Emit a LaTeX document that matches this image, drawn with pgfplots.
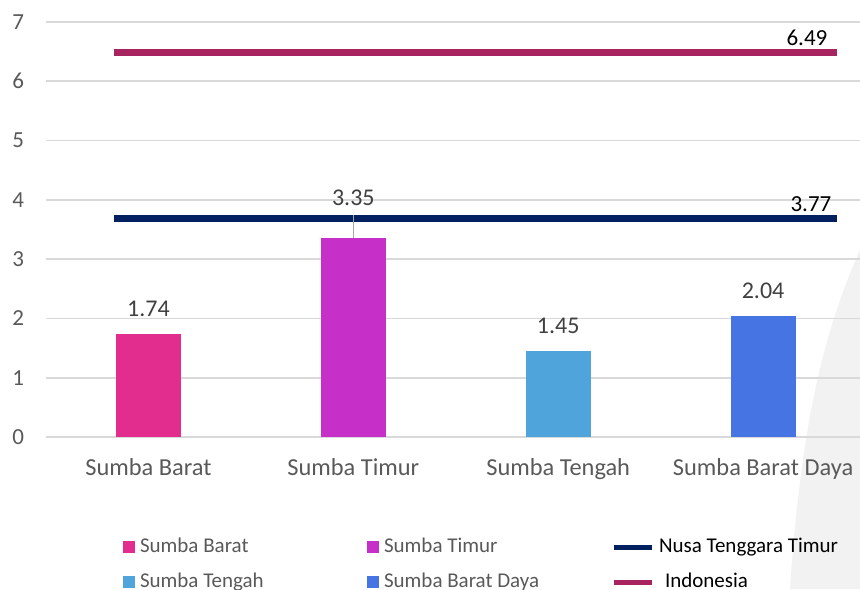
\documentclass[border=0pt]{standalone}
\usepackage{pgfplots}
\pgfplotsset{compat=1.18}
\usepackage{fontspec}
\setmainfont{Carlito}
\definecolor{sbarat}{HTML}{E32D8E}
\definecolor{stimur}{HTML}{C62FC8}
\definecolor{stengah}{HTML}{4FA5DB}
\definecolor{sbd}{HTML}{4674E2}
\definecolor{ntt}{HTML}{002060}
\definecolor{indo}{HTML}{A82461}
\definecolor{gridc}{HTML}{D9D9D9}
\definecolor{ticktext}{HTML}{595959}
\definecolor{valtext}{HTML}{404040}
\definecolor{bgcurve}{HTML}{F2F2F2}

\begin{document}
\begin{tikzpicture}[x=0.5pt,y=0.5pt]
\useasboundingbox (0,0) rectangle (860,589);
% soft background shape on the right
\fill[bgcurve] (860,339) .. controls (820,250) and (800,150) .. (790,0) -- (860,0) -- cycle;
\begin{axis}[
  at={(23pt,76pt)}, anchor=south west,
  scale only axis, width=409.75pt, height=207.5pt,
  xmin=-0.5, xmax=3.5, ymin=0, ymax=7,
  xtick={0,1,2,3},
  xticklabels={Sumba Barat,Sumba Timur,Sumba Tengah,Sumba Barat Daya},
  ytick={0,1,...,7},
  axis line style={draw=none},
  major tick length=0pt,
  ymajorgrids, grid style={gridc, line width=0.8pt},
  /pgf/number format/assume math mode=true,
  tick label style={text=ticktext},
  yticklabel style={xshift=-7.5pt, font=\fontsize{11.5}{13}\selectfont},
  xticklabel style={yshift=-7pt, font=\fontsize{12.2}{14}\selectfont},
  nodes near coords style={font=\fontsize{12}{14}\selectfont, text=valtext},
  /pgf/number format/.cd, fixed, precision=2,
  /pgfplots/.cd,
  legend columns=3,
  legend style={at={(0.094,-0.223)}, anchor=north west, draw=none, fill=none,
    inner sep=0pt, outer sep=0pt,
    nodes={inner sep=2.5pt, anchor=west,
      text height=9pt, text depth=3.5pt,
      font=\fontsize{10.5}{12}\selectfont, text=ticktext}},
]
\addplot[ybar, bar width=32.5pt, bar shift=0pt, fill=sbarat, draw=none,
  nodes near coords, nodes near coords style={yshift=5pt},
  legend image code/.code={\fill[sbarat] (0pt,-3pt) rectangle (6pt,3pt);}]
  coordinates {(0,1.74)};
\addlegendentry{\makebox[111pt][l]{Sumba Barat}}
\addplot[ybar, bar width=32.5pt, bar shift=0pt, fill=stimur, draw=none,
  nodes near coords, nodes near coords style={yshift=13pt},
  legend image code/.code={\fill[stimur] (0pt,-3pt) rectangle (6pt,3pt);}]
  coordinates {(1,3.35)};
\addlegendentry{\makebox[111pt][l]{Sumba Timur}}
\addplot[ntt, line width=3.5pt,
  legend image code/.code={\draw[ntt, line width=2.5pt] (0pt,0pt) -- (19pt,0pt);}]
  coordinates {(-0.17,3.68) (3.36,3.68)}
  node[pos=1, anchor=south east, inner sep=1pt, yshift=1pt, xshift=0pt,
    font=\fontsize{11.5}{13}\selectfont, text=black] {3.77};
\addlegendentry{\textcolor{black}{Nusa Tenggara Timur}}
\addplot[ybar, bar width=32.5pt, bar shift=0pt, fill=stengah, draw=none,
  nodes near coords, nodes near coords style={yshift=5pt},
  legend image code/.code={\fill[stengah] (0pt,-3pt) rectangle (6pt,3pt);}]
  coordinates {(2,1.45)};
\addlegendentry{\makebox[111pt][l]{Sumba Tengah}}
\addplot[ybar, bar width=32.5pt, bar shift=0pt, fill=sbd, draw=none,
  nodes near coords, nodes near coords style={yshift=5pt},
  legend image code/.code={\fill[sbd] (0pt,-3pt) rectangle (6pt,3pt);}]
  coordinates {(3,2.04)};
\addlegendentry{\makebox[111pt][l]{Sumba Barat Daya}}
\addplot[indo, line width=3.5pt,
  legend image code/.code={\draw[indo, line width=2.5pt] (0pt,0pt) -- (19pt,0pt);}]
  coordinates {(-0.17,6.49) (3.36,6.49)}
  node[pos=1, anchor=south east, inner sep=1pt, yshift=0.5pt, xshift=-2pt,
    font=\fontsize{11.5}{13}\selectfont, text=black] {6.49};
\addlegendentry{\textcolor{black}{\hspace{3pt}Indonesia}}
% leader line from the Sumba Timur label down to its bar
\draw[gray!70, line width=0.6pt] (axis cs:1,3.35) -- (axis cs:1,3.74);
\end{axis}
\end{tikzpicture}
\end{document}
